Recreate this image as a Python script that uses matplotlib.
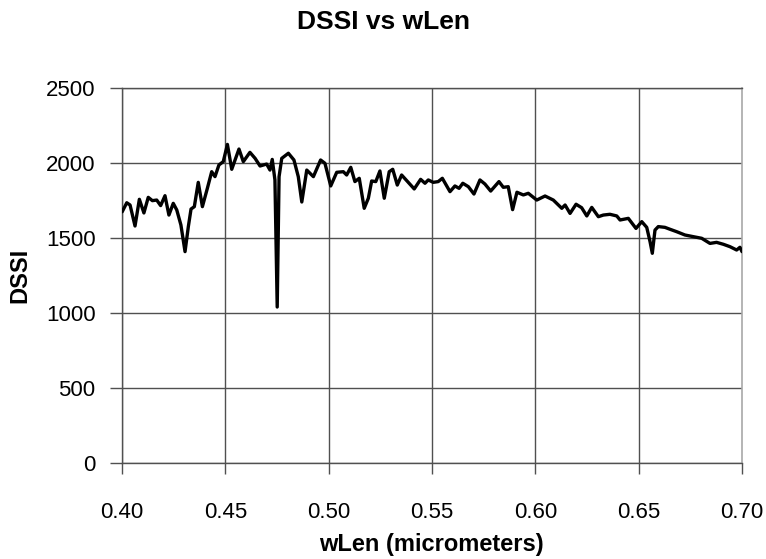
import matplotlib
matplotlib.use("Agg")
import matplotlib.pyplot as plt

wlen = [0.4001, 0.4023, 0.4039, 0.4063, 0.4084, 0.4106, 0.4127, 0.4147, 0.4168, 0.4187,
        0.4208, 0.4227, 0.4248, 0.4265, 0.4285, 0.4305, 0.4321, 0.4334, 0.4350, 0.4369,
        0.4389, 0.4413, 0.4434, 0.4450, 0.4469, 0.4490, 0.4510, 0.4531, 0.4566, 0.4587,
        0.4619, 0.4644, 0.4668, 0.4700, 0.4716, 0.4727, 0.4740, 0.4751, 0.4760, 0.4773,
        0.4805, 0.4832, 0.4853, 0.4870, 0.4894, 0.4926, 0.4961, 0.4982, 0.5010, 0.5039,
        0.5071, 0.5087, 0.5107, 0.5127, 0.5148, 0.5172, 0.5192, 0.5208, 0.5228, 0.5248,
        0.5269, 0.5293, 0.5310, 0.5332, 0.5353, 0.5378, 0.5414, 0.5445, 0.5466, 0.5482,
        0.5506, 0.5530, 0.5550, 0.5587, 0.5611, 0.5631, 0.5649, 0.5676, 0.5703, 0.5732,
        0.5756, 0.5784, 0.5824, 0.5845, 0.5869, 0.5890, 0.5911, 0.5942, 0.5966, 0.6007,
        0.6047, 0.6087, 0.6128, 0.6144, 0.6168, 0.6197, 0.6224, 0.6249, 0.6273, 0.6305,
        0.6329, 0.6361, 0.6394, 0.6410, 0.6450, 0.6487, 0.6515, 0.6539, 0.6555, 0.6566,
        0.6579, 0.6595, 0.6627, 0.6652, 0.6684, 0.6724, 0.6764, 0.6805, 0.6845, 0.6877,
        0.6910, 0.6942, 0.6974, 0.6990, 0.7000]

dssi = [1675, 1735, 1720, 1580, 1758, 1667, 1771, 1749, 1753, 1716,
        1782, 1653, 1731, 1687, 1587, 1409, 1576, 1693, 1709, 1871,
        1709, 1831, 1942, 1909, 1987, 2009, 2124, 1958, 2093, 2009,
        2071, 2031, 1980, 1993, 1953, 2024, 1887, 1040, 1909, 2031,
        2065, 2020, 1909, 1740, 1953, 1909, 2020, 1998, 1847, 1938,
        1942, 1920, 1971, 1876, 1898, 1698, 1765, 1880, 1876, 1947,
        1765, 1942, 1958, 1853, 1920, 1882, 1827, 1891, 1865, 1887,
        1871, 1876, 1898, 1809, 1847, 1831, 1865, 1842, 1793, 1887,
        1860, 1813, 1876, 1838, 1842, 1689, 1805, 1787, 1798, 1753,
        1780, 1753, 1698, 1720, 1664, 1725, 1702, 1647, 1704, 1642,
        1653, 1658, 1647, 1620, 1631, 1564, 1609, 1571, 1476, 1398,
        1553, 1576, 1571, 1558, 1542, 1520, 1509, 1498, 1464, 1471,
        1458, 1442, 1420, 1438, 1409]

xticks = [0.40, 0.45, 0.50, 0.55, 0.60, 0.65, 0.70]
xticklabels = ["0.40", "0.45", "0.50", "0.55", "0.60", "0.65", "0.70"]
yticks = [0, 500, 1000, 1500, 2000, 2500]

plt.rcParams['font.family'] = ['Liberation Sans', 'DejaVu Sans']

fig = plt.figure(figsize=(7.66, 5.59), dpi=100)
ax = fig.add_axes([122/766, 1-463/559, (742-122)/766, (463-88)/559])

ax.plot(wlen, dssi, color='black', lw=2.4, solid_joinstyle='round',
        solid_capstyle='round', zorder=3)

ax.set_xlim(0.40, 0.70)
ax.set_ylim(0, 2500)
ax.set_xticks(xticks)
ax.set_xticklabels(xticklabels)
ax.set_yticks(yticks)
ax.grid(True, color='#505050', lw=1.0)
ax.get_xgridlines()[-1].set_visible(False)
ax.set_axisbelow(True)

for s in ['left', 'bottom', 'top']:
    ax.spines[s].set_color('#505050')
    ax.spines[s].set_linewidth(1.0)
ax.spines['right'].set_color('#a8a8a8')
ax.spines['right'].set_linewidth(1.2)

ax.tick_params(axis='x', direction='out', length=8, width=1.0, color='#505050',
               pad=20, labelsize=16)
ax.tick_params(axis='y', direction='out', length=9, width=1.0, color='#505050',
               pad=10, labelsize=16)

fig.text(384/766, 1-22/559, 'DSSI vs wLen', fontsize=19, fontweight='bold',
         ha='center', va='center')
fig.text(431/766, 1-545/559, 'wLen (micrometers)', fontsize=17, fontweight='bold',
         ha='center', va='center')
fig.text(20/766, 1-275/559, 'DSSI', fontsize=17, fontweight='bold',
         ha='center', va='center', rotation=90)

fig.savefig('out.png', dpi=100)
